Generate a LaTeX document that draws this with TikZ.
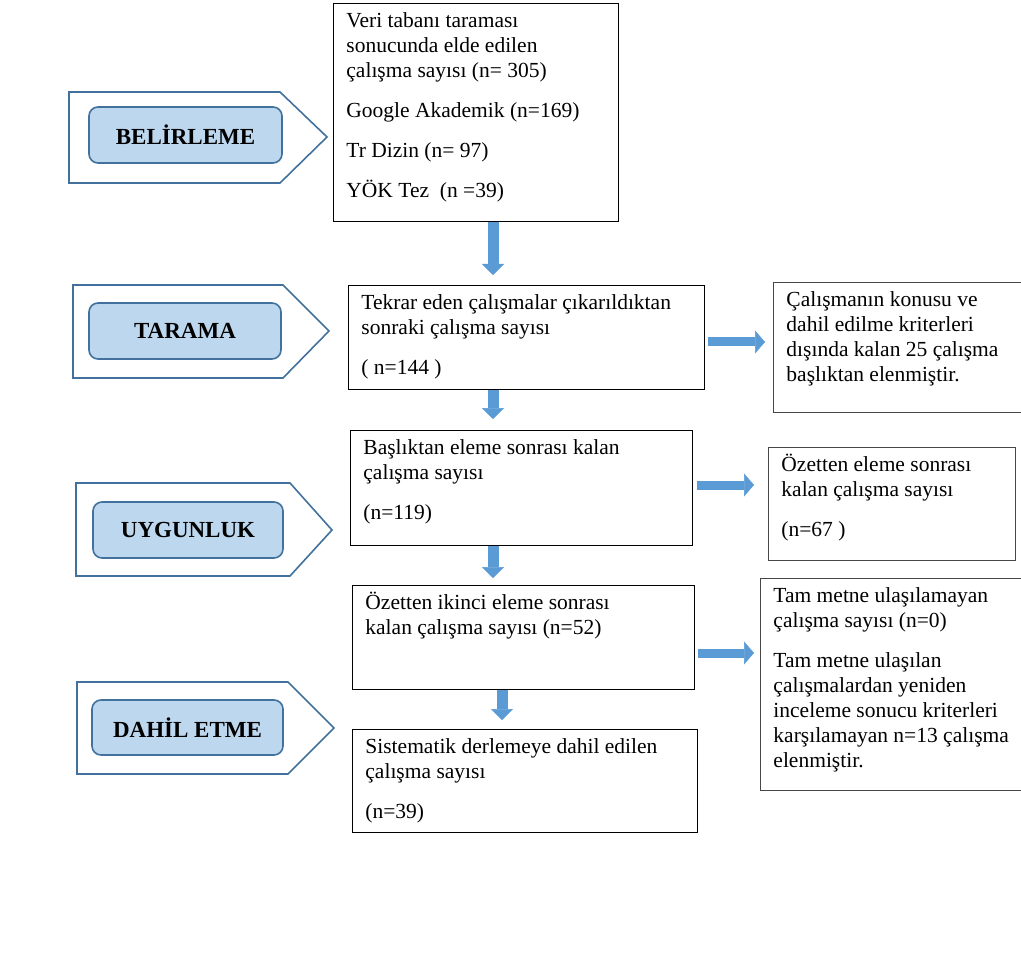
\documentclass[tikz,border=0pt]{standalone}
\usepackage{fontspec}
\setmainfont{Liberation Serif}
\usetikzlibrary{arrows.meta,positioning,calc}
\definecolor{phaseline}{RGB}{65,113,156}
\definecolor{phasefill}{RGB}{189,215,238}
\definecolor{arrowfill}{RGB}{91,155,213}
\definecolor{sidegray}{RGB}{70,70,70}
\newcommand{\boxtext}[3]{\parbox[t][#2][t]{#1}{\strut#3}}
\tikzset{
  stagebox/.style={draw=black,line width=0.9pt,anchor=north west,inner xsep=13pt,
    inner ysep=6.5pt,font=\fontsize{21.5}{25}\selectfont},
  sidebox/.style={stagebox,draw=sidegray},
  phase/.style={draw=phaseline,line width=1.6pt,line join=miter},
  phaselbl/.style={draw=phaseline,line width=1.6pt,fill=phasefill,rounded corners=9pt,
    font=\fontsize{23}{27}\selectfont\bfseries,inner sep=0pt},
  downarr/.style={color=arrowfill,line width=11pt,
    -{Triangle[width=22pt,length=11pt,line width=0.5pt]}},
  sidearr/.style={color=arrowfill,line width=9pt,
    -{Triangle[width=23pt,length=10pt,line width=0.5pt]}},
}

\begin{document}
\begin{tikzpicture}[x=1pt,y=-1pt]
\useasboundingbox (0,0) rectangle (1021,960);
% phases
\draw[phase] (69,92) -- (280,92) -- (327,137) -- (280,183) -- (69,183) -- cycle;
\draw[phase] (73,285) -- (283,285) -- (329,331) -- (283,378) -- (73,378) -- cycle;
\draw[phase] (76,483) -- (290,483) -- (332,530) -- (290,576) -- (76,576) -- cycle;
\draw[phase] (77,682) -- (288,682) -- (334,728) -- (288,774) -- (77,774) -- cycle;
\node[phaselbl,minimum width=193pt,minimum height=56pt] (belirleme) at (185.5,135) {BELİRLEME};
\node[phaselbl,minimum width=192pt,minimum height=56pt] (tarama) at (185,331) {TARAMA};
\node[phaselbl,minimum width=190pt,minimum height=56pt] (uygunluk) at (188,530) {UYGUNLUK};
\node[phaselbl,minimum width=191pt,minimum height=55pt] (dahil) at (187.5,727.5) {DAHİL ETME};
% main column
\node[stagebox] (vt) at (333,3) {\boxtext{259pt}{205pt}{Veri tabanı taraması\\
  sonucunda elde edilen\\ çalışma sayısı (n= 305)\\[15pt]
  Google Akademik (n=169)\\[15pt] Tr Dizin (n= 97)\\[15pt] YÖK Tez\ \ (n =39)}};
\node[stagebox] (tekrar) at (348,285) {\boxtext{330pt}{91pt}{Tekrar eden çalışmalar çıkarıldıktan\\
  sonraki çalışma sayısı\\[15pt] ( n=144 )}};
\node[stagebox] (baslik) at (350,430) {\boxtext{316pt}{102pt}{Başlıktan eleme sonrası kalan\\
  çalışma sayısı\\[15pt] (n=119)}};
\node[stagebox] (ozet) at (352,585) {\boxtext{316pt}{91pt}{Özetten ikinci eleme sonrası\\
  kalan çalışma sayısı (n=52)}};
\node[stagebox] (sist) at (352,729) {\boxtext{319pt}{90pt}{Sistematik derlemeye dahil edilen\\
  çalışma sayısı\\[15pt] (n=39)}};
% side boxes
\node[sidebox] (elenen) at (773,282) {\boxtext{234pt}{117pt}{Çalışmanın konusu ve\\
  dahil edilme kriterleri\\ dışında kalan 25 çalışma\\ başlıktan elenmiştir.}};
\node[sidebox] (ozetkalan) at (768,447) {\boxtext{221pt}{100pt}{Özetten eleme sonrası\\
  kalan çalışma sayısı\\[15pt] (n=67 )}};
\node[sidebox] (tammetin) at (760,578) {\boxtext{244pt}{199pt}{Tam metne ulaşılamayan\\
  çalışma sayısı (n=0)\\[15pt] Tam metne ulaşılan\\ çalışmalardan yeniden\\
  inceleme sonucu kriterleri\\ karşılamayan n=13 çalışma\\ elenmiştir.}};
% arrows
\coordinate (col) at (493,0);
\coordinate (col2) at (502,0);
\draw[downarr] (vt.south -| col) -- ($(tekrar.north -| col)+(0,-10)$);
\draw[downarr] (tekrar.south -| col) -- ($(baslik.north -| col)+(0,-11)$);
\draw[downarr] (baslik.south -| col) -- ($(ozet.north -| col)+(0,-7)$);
\draw[downarr] (ozet.south -| col2) -- ($(sist.north -| col2)+(0,-9)$);
\draw[sidearr] ($(tekrar.east |- 0,342)+(3,0)$) -- ($(elenen.west |- 0,342)+(-8,0)$);
\draw[sidearr] ($(baslik.east |- 0,485)+(4,0)$) -- ($(ozetkalan.west |- 0,485)+(-14,0)$);
\draw[sidearr] ($(ozet.east |- 0,653)+(3,0)$) -- ($(tammetin.west |- 0,653)+(-6,0)$);
\end{tikzpicture}
\end{document}
